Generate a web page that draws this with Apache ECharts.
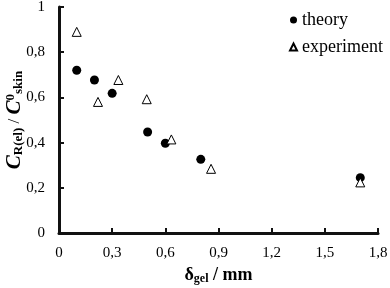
<!DOCTYPE html>
<html>
<head>
<meta charset="utf-8">
<script src="https://cdn.jsdelivr.net/npm/echarts@6/dist/echarts.min.js"></script>
<style>
  html, body { margin: 0; padding: 0; background: #fff; }
  #chart { width: 390px; height: 288px; }
</style>
</head>
<body>
<div id="chart"></div>
<script>
var theoryX = [0.1, 0.2, 0.3, 0.5, 0.6, 0.8, 1.7];
var theoryY = [0.72, 0.677, 0.618, 0.447, 0.397, 0.326, 0.245];
var expX = [0.1, 0.22, 0.335, 0.495, 0.634, 0.858, 1.7];
var expY = [0.89, 0.58, 0.677, 0.592, 0.414, 0.284, 0.224];

function pairs(xs, ys) {
  return xs.map(function (x, i) { return [x, ys[i]]; });
}

function commaFmt(v) {
  return String(+v.toFixed(1)).replace('.', ',');
}

var font = '"Liberation Serif", "Times New Roman", serif';
var ink = '#000000';
var axisInk = '#111111';

var chart = echarts.init(document.getElementById('chart'));
var option = {
  animation: false,
  grid: { left: 59, right: 12, top: 7, bottom: 55, outerBoundsMode: 'none' },
  legend: {
    orient: 'vertical',
    left: 284,
    top: 6,
    itemWidth: 7,
    itemHeight: 7,
    itemGap: 9,
    textStyle: { fontFamily: font, fontSize: 18, color: ink },
    data: ['theory', 'experiment']
  },
  xAxis: {
    type: 'value',
    min: 0,
    max: 1.8,
    interval: 0.3,
    splitLine: { show: false },
    axisLine: { show: true, lineStyle: { color: axisInk, width: 3 } },
    axisTick: { show: true, inside: true, length: 5, lineStyle: { color: axisInk, width: 2 } },
    axisLabel: { fontFamily: font, fontSize: 15, color: ink, margin: 13, formatter: commaFmt },
    name: '{b|δ}{s|gel}{b| / mm}',
    nameLocation: 'middle',
    nameGap: 32,
    nameMoveOverlap: false,
    nameTextStyle: {
      rich: {
        b: { fontFamily: font, fontSize: 18, fontWeight: 'bold', color: ink },
        s: { fontFamily: font, fontSize: 12, fontWeight: 'bold', color: ink, verticalAlign: 'bottom', padding: [8, 0, 0, 0] }
      }
    }
  },
  yAxis: {
    type: 'value',
    min: 0,
    max: 1,
    interval: 0.2,
    splitLine: { show: false },
    axisLine: { show: true, lineStyle: { color: axisInk, width: 3 } },
    axisTick: { show: true, inside: true, length: 5, lineStyle: { color: axisInk, width: 2 } },
    axisLabel: { fontFamily: font, fontSize: 15, color: ink, margin: 14, formatter: commaFmt },
    name: '{c|C}{s|R(el)}{n| / }{c|C}{p|0}{s|skin}',
    nameLocation: 'middle',
    nameRotate: 90,
    nameGap: 34,
    nameMoveOverlap: false,
    nameTextStyle: {
      rich: {
        c: { fontFamily: font, fontSize: 21, fontWeight: 'bold', fontStyle: 'italic', color: ink },
        n: { fontFamily: font, fontSize: 17, color: ink },
        s: { fontFamily: font, fontSize: 13, fontWeight: 'bold', color: ink, verticalAlign: 'bottom', padding: [8, 0, 0, 0] },
        p: { fontFamily: font, fontSize: 13, fontWeight: 'bold', color: ink, verticalAlign: 'top', padding: [0, 0, 8, 0] }
      }
    }
  },
  series: [
    {
      name: 'theory',
      type: 'scatter',
      symbol: 'circle',
      symbolSize: 9,
      itemStyle: { color: ink, opacity: 1 },
      data: pairs(theoryX, theoryY)
    },
    {
      name: 'experiment',
      type: 'scatter',
      symbol: 'triangle',
      symbolSize: 9,
      itemStyle: { color: '#fff', borderColor: ink, borderWidth: 1, opacity: 1 },
      data: pairs(expX, expY)
    }
  ]
};
chart.setOption(option);
</script>
</body>
</html>
